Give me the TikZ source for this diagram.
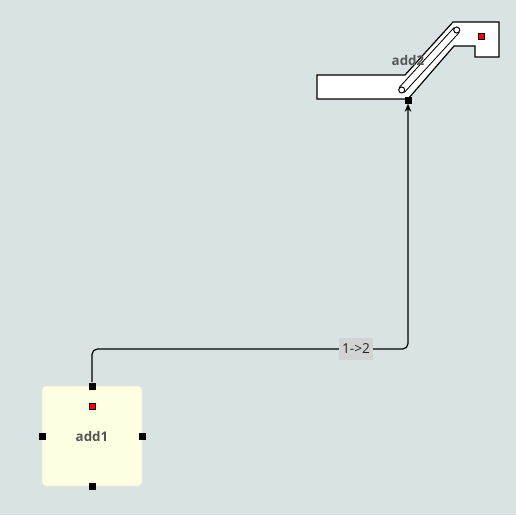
\documentclass[tikz,border=0pt]{standalone}
\usepackage{fontspec}
\setmainfont{Open Sans}
\definecolor{canvas}{RGB}{218,227,228}
\definecolor{blockfill}{RGB}{254,254,226}
\definecolor{blockline}{RGB}{236,236,214}
\definecolor{labelfill}{RGB}{210,212,212}
\definecolor{textgray}{RGB}{85,85,85}
\usetikzlibrary{arrows.meta}

\begin{document}
\begin{tikzpicture}[
  x=0.75pt, y=-0.75pt,
  port/.style={rectangle, fill=black, inner sep=0pt, minimum size=5.25pt},
  redsq/.style={rectangle, draw=black, fill=red, line width=0.4pt, inner sep=0pt, minimum size=4.5pt},
  block/.style={rectangle, rounded corners=3pt, fill=blockfill, draw=blockline, line width=0.5pt,
    minimum size=75pt, inner sep=0pt, font=\bfseries\fontsize{10}{12}\selectfont, text=textgray},
  tag/.style={rectangle, fill=labelfill, inner sep=2pt, minimum height=16.5pt, minimum width=25.5pt,
    font=\fontsize{10.3}{12}\selectfont, text=black!85},
  wire/.style={line width=0.9pt, rounded corners=4pt}
  ]
  \fill[canvas] (0,0) rectangle (516,515);
  \useasboundingbox (0,0) rectangle (516,515);

  % first block
  \node[block] (add1) at (92,436) {add1};
  \node[redsq] (add1m) at (92,406) {};
  \node[port] (add1t) at (92,386) {};
  \node[port] (add1b) at (92,486) {};
  \node[port] (add1l) at (42,436) {};
  \node[port] (add1r) at (142,436) {};

  % second block
  \draw[fill=white, line width=0.9pt] (317,75) -- (405,75) -- (453,22) -- (499,22) -- (499,57)
    -- (475,57) -- (475,46) -- (454,46) -- (408,99) -- (317,99) -- cycle;
  \coordinate (s1) at (401.7,90);
  \coordinate (s2) at (456.7,30);
  \draw[double=white, double distance=4.5pt, line width=0.75pt] (s1) -- (s2);
  \draw[fill=white, line width=0.75pt] (s1) circle (3) (s2) circle (3);
  \node[redsq] (add2m) at (481.5,36.5) {};
  \node[font=\bfseries\fontsize{10}{12}\selectfont, text=textgray] (add2) at (408,60) {add2};
  \node[port] (add2p) at (408,100) {};

  % connection
  \coordinate (bend) at (408,349);
  \draw[wire, -{Stealth[length=6pt, width=5pt]}] (add1t.north) |- (bend) -- (add2p.south);
  \node[tag] (c12) at (356,349) {1->2};
\end{tikzpicture}
\end{document}
